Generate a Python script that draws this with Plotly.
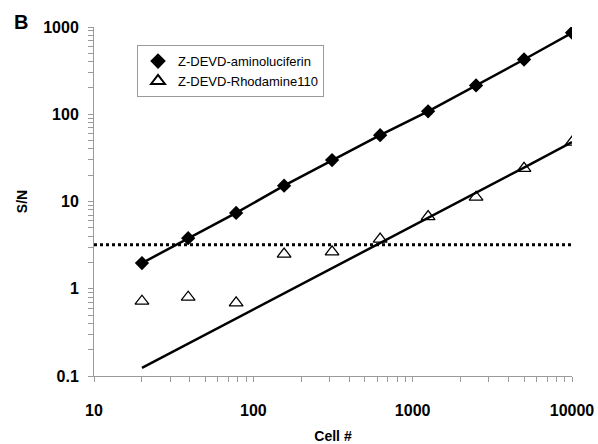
import plotly.graph_objects as go

cells = [20, 39, 78, 156, 312, 625, 1250, 2500, 5000, 10000]
luc_sn = [1.97, 3.8, 7.4, 15.2, 29.8, 57.5, 108, 214, 424, 860]
rhod_sn = [0.72, 0.80, 0.69, 2.5, 2.65, 3.7, 6.7, 11.2, 24, 48]
rhod_fit = [0.124, 0.235, 0.45, 0.88, 1.72, 3.35, 6.5, 12.6, 24.5, 48]
threshold = 3.2
x_span = [10, 10000]
x_ticks_major = [10, 100, 1000, 10000]
y_ticks_major = [0.1, 1, 10, 100, 1000]
y_tick_text = ["0.1", "1", "10", "100", "1000"]

def minor_vals(majors):
    vals, texts = [], []
    for i, m in enumerate(majors):
        vals.append(m)
        texts.append(None)
        if i < len(majors) - 1:
            for k in range(2, 10):
                vals.append(m * k)
                texts.append("")
    return vals, texts

xv, xt = minor_vals(x_ticks_major)
xt = [str(v) if t is None else t for v, t in zip(xv, xt)]
yv, yt = minor_vals(y_ticks_major)
ylab = dict(zip(y_ticks_major, y_tick_text))
yt = [ylab[v] if t is None else t for v, t in zip(yv, yt)]

font = "Liberation Sans, Arial, sans-serif"
fig = go.Figure()
fig.add_trace(go.Scatter(x=x_span, y=[threshold, threshold], mode="lines",
                         line=dict(color="black", width=3, dash="dot"),
                         showlegend=False, hoverinfo="skip"))
fig.add_trace(go.Scatter(x=cells, y=luc_sn, mode="lines",
                         line=dict(color="black", width=2.5),
                         showlegend=False, hoverinfo="skip"))
fig.add_trace(go.Scatter(x=cells, y=luc_sn, mode="markers",
                         name="Z-DEVD-aminoluciferin",
                         marker=dict(symbol="diamond", size=11, color="black")))
fig.add_trace(go.Scatter(x=cells, y=rhod_fit, mode="lines",
                         line=dict(color="black", width=2.5),
                         showlegend=False, hoverinfo="skip"))
fig.add_trace(go.Scatter(x=cells, y=rhod_sn, mode="markers",
                         name="Z-DEVD-Rhodamine110",
                         marker=dict(symbol="triangle-up-open", size=12, color="black",
                                     line=dict(width=1.3, color="black"))))

axis_common = dict(showgrid=False, zeroline=False, showline=True, linecolor="#9a9a9a",
                   linewidth=1, ticks="outside", tickcolor="#9a9a9a", ticklen=5,
                   tickfont=dict(family=font, size=16, color="black", weight="bold"),
                   tickmode="array", automargin=False)
fig.update_xaxes(type="log", range=[1, 4], tickvals=xv, ticktext=xt,
                 ticklabelstandoff=15,
                 title=dict(text="Cell #", font=dict(family=font, size=14, color="black", weight="bold"),
                            standoff=18),
                 **axis_common)
fig.update_yaxes(type="log", range=[-1, 3], tickvals=yv, ticktext=yt,
                 ticklabelstandoff=6,
                 title=dict(text="S/N", font=dict(family=font, size=14, color="black", weight="bold"),
                            standoff=12),
                 **axis_common)

fig.update_layout(
    width=598, height=444,
    margin=dict(l=94, r=26, t=27, b=68),
    paper_bgcolor="white", plot_bgcolor="white",
    legend=dict(x=0.09, y=0.948, xanchor="left", yanchor="top",
                bordercolor="#9a9a9a", borderwidth=1, bgcolor="white",
                font=dict(family=font, size=13, color="black"),
                itemsizing="constant", itemwidth=30, tracegroupgap=8),
    annotations=[dict(text="<b>B</b>", x=0.0, y=1.0, xref="paper", yref="paper",
                      xanchor="left", yanchor="top", showarrow=False,
                      xshift=-82, yshift=18,
                      font=dict(family=font, size=20, color="black"))],
)
fig.write_html("out.html")
